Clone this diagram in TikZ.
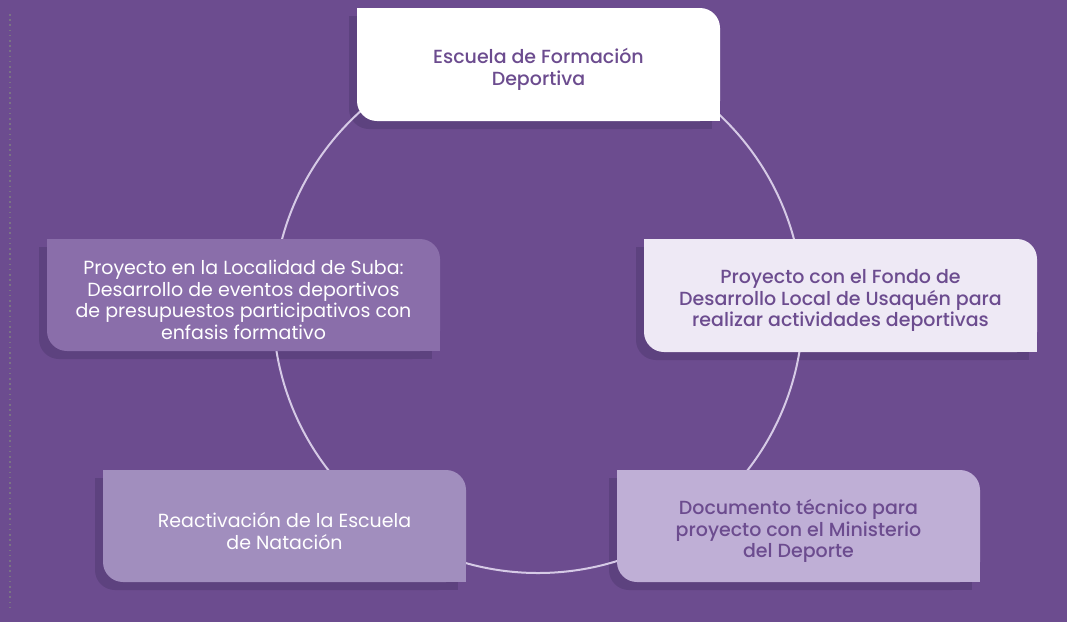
\documentclass[tikz,border=0pt]{standalone}
\usepackage{fontspec}
\setmainfont{Poppins}
\newfontfamily\popmed{Poppins Medium}
\definecolor{bgc}{HTML}{6C4C8F}
\definecolor{shadowc}{HTML}{5D427F}
\definecolor{ringc}{HTML}{D6CAE6}
\definecolor{dotc}{HTML}{7A7384}
\definecolor{cwhite}{HTML}{FFFFFF}
\definecolor{clight}{HTML}{EEE9F5}
\definecolor{cmid}{HTML}{8A6EAA}
\definecolor{cpale}{HTML}{A18EBE}
\definecolor{clilac}{HTML}{BFAFD6}
\definecolor{tpurple}{HTML}{6C4C8F}
\pgfdeclarelayer{shadows}
\pgfdeclarelayer{ringlayer}
\pgfsetlayers{shadows,ringlayer,main}
\tikzset{
  cardbox/.style={rectangle, rounded corners=20pt, inner sep=0pt, outer sep=0pt},
  cardtext/.style={inner sep=0pt, align=center, font=\fontsize{19}{21.5}\selectfont},
  ring/.style={circle, draw=ringc, line width=2pt, inner sep=0pt, minimum size=530pt},
  dots/.style={dotc, line width=1.6pt, dash pattern=on 1.6pt off 3.6pt}
}
\newcommand\card[8]{%
  \node[cardbox, fill=#6, minimum width=#4pt, minimum height=#5pt] (#1) at (#2,#3) {};
  \fill[#6] (#1.north west) rectangle ++(20pt,-20pt);
  \fill[#6] (#1.south east) rectangle ++(-20pt,20pt);
  \node[cardtext, text=#7] (#1-label) at ([yshift=-5pt]#1.center) {#8};
  \begin{pgfonlayer}{shadows}
    \fill[shadowc, rounded corners=20pt] ([shift={(-8pt,-8pt)}]#1.north west) rectangle ([shift={(-8pt,-8pt)}]#1.south east);
    \fill[shadowc] ([shift={(-8pt,-8pt)}]#1.north west) rectangle ++(20pt,-20pt);
    \fill[shadowc] ([shift={(-8pt,-8pt)}]#1.south east) rectangle ++(-20pt,20pt);
  \end{pgfonlayer}
}
\begin{document}
\begin{tikzpicture}[x=1pt,y=-1pt]
  \begin{pgfonlayer}{shadows}
    \fill[bgc] (0,0) rectangle (1067,622);
  \end{pgfonlayer}
  \useasboundingbox (0,0) rectangle (1067,622);
  \coordinate (dtop) at (10,14);
  \coordinate (dbot) at (10,608);
  \begin{pgfonlayer}{ringlayer}
    \draw[dots] (dtop) -- (dbot);
    \node[ring] (circ) at (538,308) {};
  \end{pgfonlayer}
  \card{escuela}{538.5}{64.5}{363}{113}{cwhite}{tpurple}{\popmed Escuela de Formación\\\popmed Deportiva}
  \card{suba}{243.5}{295}{393}{112}{cmid}{white}{Proyecto en la Localidad de Suba:\\Desarrollo de eventos deportivos\\de presupuestos participativos con\\enfasis formativo}
  \card{usaquen}{840.5}{295.5}{393}{113}{clight}{tpurple}{\popmed Proyecto con el Fondo de\\\popmed Desarrollo Local de Usaquén para\\\popmed realizar actividades deportivas}
  \card{natacion}{284.5}{526}{363}{112}{cpale}{white}{Reactivación de la Escuela\\de Natación}
  \card{ministerio}{798.5}{526}{363}{112}{clilac}{tpurple}{\popmed Documento técnico para\\\popmed proyecto con el Ministerio\\\popmed del Deporte}
\end{tikzpicture}
\end{document}
